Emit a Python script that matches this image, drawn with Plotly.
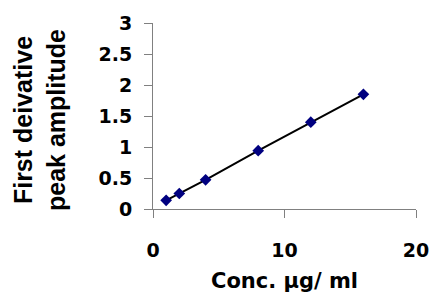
import plotly.graph_objects as go

conc = [1, 2, 4, 8, 12, 16]
amplitude = [0.14, 0.25, 0.47, 0.94, 1.40, 1.85]
x_title = "Conc. µg/ ml"
y_title = "First deivative<br>peak amplitude"
x_ticks = [0, 10, 20]
y_ticks = [0, 0.5, 1, 1.5, 2, 2.5, 3]

tick_font = dict(family="DejaVu Sans", size=19, color="black", weight="bold")

fig = go.Figure()
fig.add_trace(go.Scatter(
    x=conc, y=amplitude, mode="lines",
    line=dict(color="black", width=2), showlegend=False, hoverinfo="skip"))
fig.add_trace(go.Scatter(
    x=conc, y=amplitude, mode="markers",
    marker=dict(symbol="diamond", color="#000080", size=9), showlegend=False))

axis_common = dict(showgrid=False, zeroline=False, showline=True, linecolor="#808080",
                   linewidth=1, ticks="outside", ticklen=8, tickcolor="#808080",
                   tickwidth=1, tickfont=tick_font, automargin=False)
fig.update_xaxes(range=[0, 20], tickvals=x_ticks, ticktext=[str(v) for v in x_ticks],
                 ticklabelstandoff=16, **axis_common)
fig.update_yaxes(range=[0, 3], tickvals=y_ticks, ticktext=[f"{v:g}" for v in y_ticks],
                 ticklabelstandoff=8, **axis_common)

fig.add_annotation(text=x_title, xref="paper", yref="paper", x=0.5, y=0,
                   xanchor="center", yanchor="middle", yshift=-72, showarrow=False,
                   font=dict(family="DejaVu Sans", size=21, color="black", weight="bold"))
fig.add_annotation(text=y_title, xref="paper", yref="paper", x=0, y=0.5,
                   xanchor="center", yanchor="middle", xshift=-114, yshift=-4,
                   textangle=-90, showarrow=False,
                   font=dict(family="Liberation Sans", size=25, color="black", weight="bold"))

fig.update_layout(width=431, height=296, margin=dict(l=153, r=15, t=23, b=87),
                  plot_bgcolor="white", paper_bgcolor="white")
fig.write_html("out.html", config={"displayModeBar": False},
               post_script="document.body.style.margin='0px';")
